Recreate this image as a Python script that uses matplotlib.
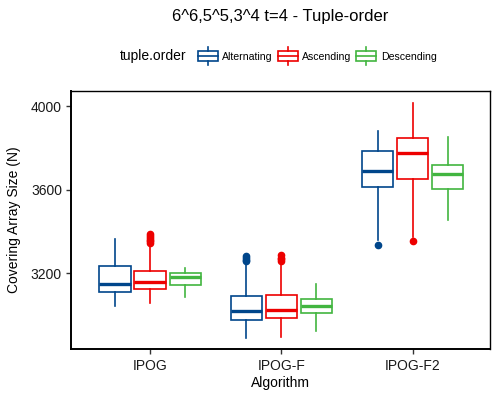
import matplotlib
matplotlib.use("Agg")
import matplotlib.pyplot as plt
from matplotlib.patches import Patch, Rectangle
from matplotlib.lines import Line2D
from matplotlib.legend_handler import HandlerBase

plt.rcParams['font.family'] = ['Liberation Sans', 'DejaVu Sans']

# -------- DATA --------
algorithms = ["IPOG", "IPOG-F", "IPOG-F2"]
orders = ["Alternating", "Ascending", "Descending"]
colors = ["#00468B", "#ED0000", "#42B540"]

# per order: one value per algorithm
whislo = {
    "Alternating": [3040, 2889, 3360],
    "Ascending":   [3056, 2893, 3372],
    "Descending":  [3085, 2922, 3456],
}
q1 = {
    "Alternating": [3111, 2977, 3610],
    "Ascending":   [3125, 2983, 3650],
    "Descending":  [3144, 3008, 3601],
}
med = {
    "Alternating": [3149, 3018, 3690],
    "Ascending":   [3155, 3024, 3775],
    "Descending":  [3179, 3044, 3676],
}
q3 = {
    "Alternating": [3232, 3090, 3786],
    "Ascending":   [3210, 3093, 3849],
    "Descending":  [3200, 3075, 3719],
}
whishi = {
    "Alternating": [3365, 3246, 3879],
    "Ascending":   [3336, 3248, 4014],
    "Descending":  [3226, 3146, 3851],
}
fliers = {
    "Alternating": [[], [3256, 3264, 3272, 3281], [3334]],
    "Ascending":   [[3344, 3352, 3360, 3368, 3376, 3385], [3258, 3266, 3274, 3285], [3355]],
    "Descending":  [[], [], []],
}

# -------- PLOT --------
fig = plt.figure(figsize=(5, 4), dpi=100)
ax = fig.add_axes([71/500, 1-349/400, (490-71)/500, (349-91)/400])

offsets = [-0.267, 0.0, 0.267]
for i, order in enumerate(orders):
    c = colors[i]
    stats = []
    for j in range(len(algorithms)):
        stats.append(dict(whislo=whislo[order][j], q1=q1[order][j], med=med[order][j],
                          q3=q3[order][j], whishi=whishi[order][j], fliers=fliers[order][j]))
    pos = [j + 1 + offsets[i] for j in range(len(algorithms))]
    ax.bxp(stats, positions=pos, widths=0.237, patch_artist=True, showcaps=False,
           boxprops=dict(facecolor="white", edgecolor=c, linewidth=1.2),
           whiskerprops=dict(color=c, linewidth=1.2),
           medianprops=dict(color=c, linewidth=2.4),
           flierprops=dict(marker="o", markerfacecolor=c, markeredgecolor=c, markersize=4.5))

ax.set_xlim(0.398, 3.589)
ax.set_ylim(2836, 4072)
ax.set_yticks([3200, 3600, 4000])
ax.set_xticks([1, 2, 3])
ax.set_xticklabels(algorithms)
ax.tick_params(axis="both", labelsize=10, colors="#333333", labelcolor="#1a1a1a",
               length=3.5, width=1.0, direction="out")
ax.tick_params(axis="x", pad=4)
ax.tick_params(axis="y", pad=3)
for s in ["top", "right"]:
    ax.spines[s].set_linewidth(1.0)
for s in ["left", "bottom"]:
    ax.spines[s].set_linewidth(1.4)
ax.set_xlabel("Algorithm", fontsize=10, va="center")
ax.set_ylabel("Covering Array Size (N)", fontsize=10, va="center")
ax.xaxis.set_label_coords(0.5, (349-382.5)/258)
ax.yaxis.set_label_coords((14-71)/419, 0.5)

fig.text(280.5/500, 1-16/400, "6^6,5^5,3^4 t=4 - Tuple-order", fontsize=12,
         ha="center", va="center")


# -------- LEGEND --------
class BoxHandler(HandlerBase):
    def create_artists(self, legend, orig_handle, xdescent, ydescent,
                       width, height, fontsize, trans):
        c = orig_handle.get_edgecolor()
        x0, y0 = -xdescent, -ydescent
        lo, hi = y0 + 0.05 * height, y0 + 0.95 * height
        cx = x0 + width / 2
        rect = Rectangle((x0, lo), width, hi - lo, facecolor="white",
                         edgecolor=c, linewidth=1.2, transform=trans)
        medl = Line2D([x0, x0 + width], [y0 + height / 2] * 2, color=c,
                      linewidth=1.2, transform=trans)
        w1 = Line2D([cx, cx], [y0 - 0.3 * height, lo], color=c, linewidth=1.2, transform=trans)
        w2 = Line2D([cx, cx], [hi, y0 + 1.3 * height], color=c, linewidth=1.2, transform=trans)
        return [rect, medl, w1, w2]


handles = [Patch(facecolor="white", edgecolor=c) for c in colors]
leg = fig.legend(handles, orders, handler_map={Patch: BoxHandler()}, ncol=3,
                 loc="center left", bbox_to_anchor=(197.5/500, 1-56/400), frameon=False,
                 fontsize=7.6, handlelength=1.9, handleheight=1.35, handletextpad=0.4,
                 columnspacing=0.5, borderpad=0, borderaxespad=0)
fig.text(120/500, 1-56/400, "tuple.order", fontsize=10, ha="left", va="center")

plt.savefig("out.png", dpi=100)
